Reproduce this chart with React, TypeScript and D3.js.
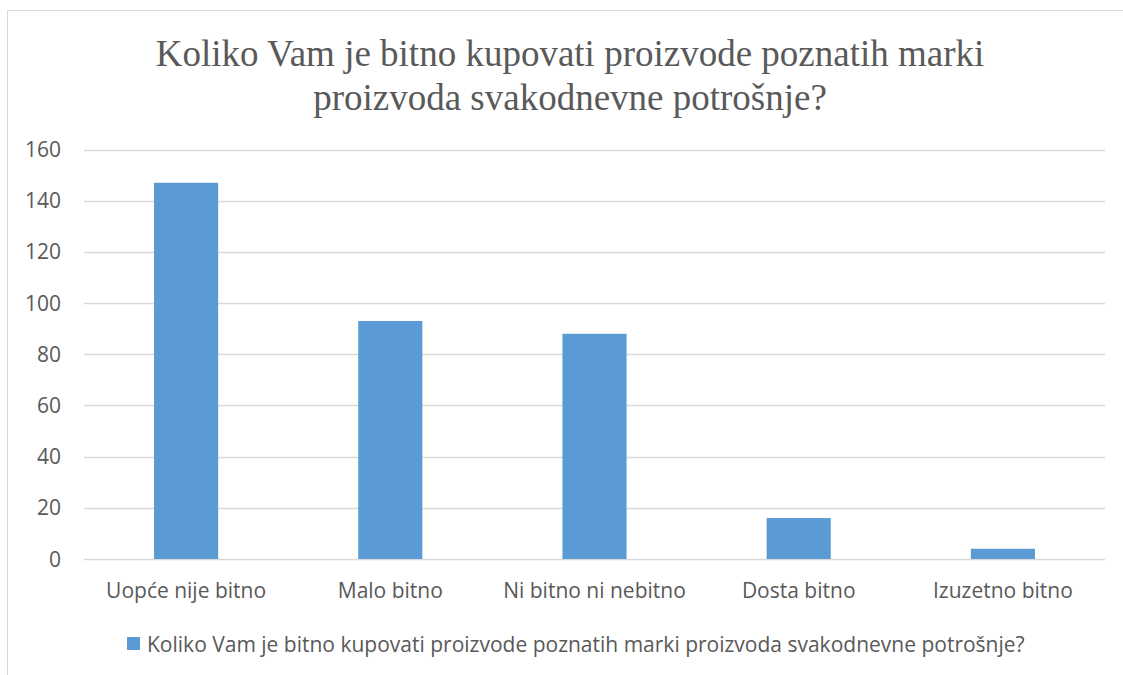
import React, { useEffect, useRef } from "react";
import * as d3 from "d3";

const categories = ["Uopće nije bitno", "Malo bitno", "Ni bitno ni nebitno", "Dosta bitno", "Izuzetno bitno"];
const values = [147, 93, 88, 16, 4];
const yTicks = [0, 20, 40, 60, 80, 100, 120, 140, 160];
const titleLines = ["Koliko Vam je bitno kupovati proizvode poznatih marki", "proizvoda svakodnevne potrošnje?"];
const seriesName = "Koliko Vam je bitno kupovati proizvode poznatih marki proizvoda svakodnevne potrošnje?";

const W = 1123;
const H = 675;
const textColor = "#595959";
const barColor = "#5B9BD5";
const labelFont = "'Open Sans', 'Noto Sans', sans-serif";

function App() {
  const ref = useRef<SVGSVGElement>(null);

  useEffect(() => {
    const svg = d3.select(ref.current);
    svg.selectAll("*").remove();

    // chart frame (only top and left edges visible in the source)
    svg.append("line").attr("x1", 7.5).attr("x2", W).attr("y1", 10.5).attr("y2", 10.5).attr("stroke", "#D9D9D9");
    svg.append("line").attr("x1", 7.5).attr("x2", 7.5).attr("y1", 10.5).attr("y2", H).attr("stroke", "#D9D9D9");

    // title
    svg.append("g")
      .selectAll("text")
      .data(titleLines)
      .enter()
      .append("text")
      .attr("x", 570)
      .attr("y", (d, i) => 66 + i * 44)
      .attr("text-anchor", "middle")
      .attr("font-family", "'Liberation Serif', 'Times New Roman', serif")
      .attr("font-size", 37)
      .attr("fill", textColor)
      .text((d) => d);

    const x = d3.scaleBand().domain(categories).range([84, 1105]).padding(0);
    const y = d3.scaleLinear().domain([0, 160]).range([559, 149.5]);

    // gridlines
    svg.append("g")
      .selectAll("line")
      .data(yTicks)
      .enter()
      .append("line")
      .attr("x1", 84)
      .attr("x2", 1105)
      .attr("y1", (d) => Math.round(y(d)) + 0.5)
      .attr("y2", (d) => Math.round(y(d)) + 0.5)
      .attr("stroke", "#D9D9D9")
      .attr("stroke-width", 1.3);

    // y labels
    svg.append("g")
      .selectAll("text")
      .data(yTicks)
      .enter()
      .append("text")
      .attr("x", 61)
      .attr("y", (d) => y(d) + 7.5)
      .attr("text-anchor", "end")
      .attr("font-family", labelFont)
      .attr("font-size", 21)
      .attr("fill", textColor)
      .text((d) => d);

    // bars
    const barW = x.bandwidth() * 0.314;
    svg.append("g")
      .selectAll("rect")
      .data(values)
      .enter()
      .append("rect")
      .attr("x", (d, i) => x(categories[i])! + x.bandwidth() / 2 - barW / 2)
      .attr("y", (d) => y(d))
      .attr("width", barW)
      .attr("height", (d) => y(0) - y(d))
      .attr("fill", barColor);

    // x labels
    svg.append("g")
      .selectAll("text")
      .data(categories)
      .enter()
      .append("text")
      .attr("x", (d) => x(d)! + x.bandwidth() / 2)
      .attr("y", 598)
      .attr("text-anchor", "middle")
      .attr("font-family", labelFont)
      .attr("font-size", 21)
      .attr("fill", textColor)
      .text((d) => d);

    // legend
    svg.append("rect").attr("x", 127).attr("y", 637).attr("width", 13).attr("height", 13).attr("fill", barColor);
    svg.append("text")
      .attr("x", 147)
      .attr("y", 652)
      .attr("font-family", labelFont)
      .attr("font-size", 21)
      .attr("fill", textColor)
      .text(seriesName);
  }, []);

  return <svg ref={ref} width={W} height={H} style={{ position: "absolute", left: 0, top: 0 }}></svg>;
}

export default App;
